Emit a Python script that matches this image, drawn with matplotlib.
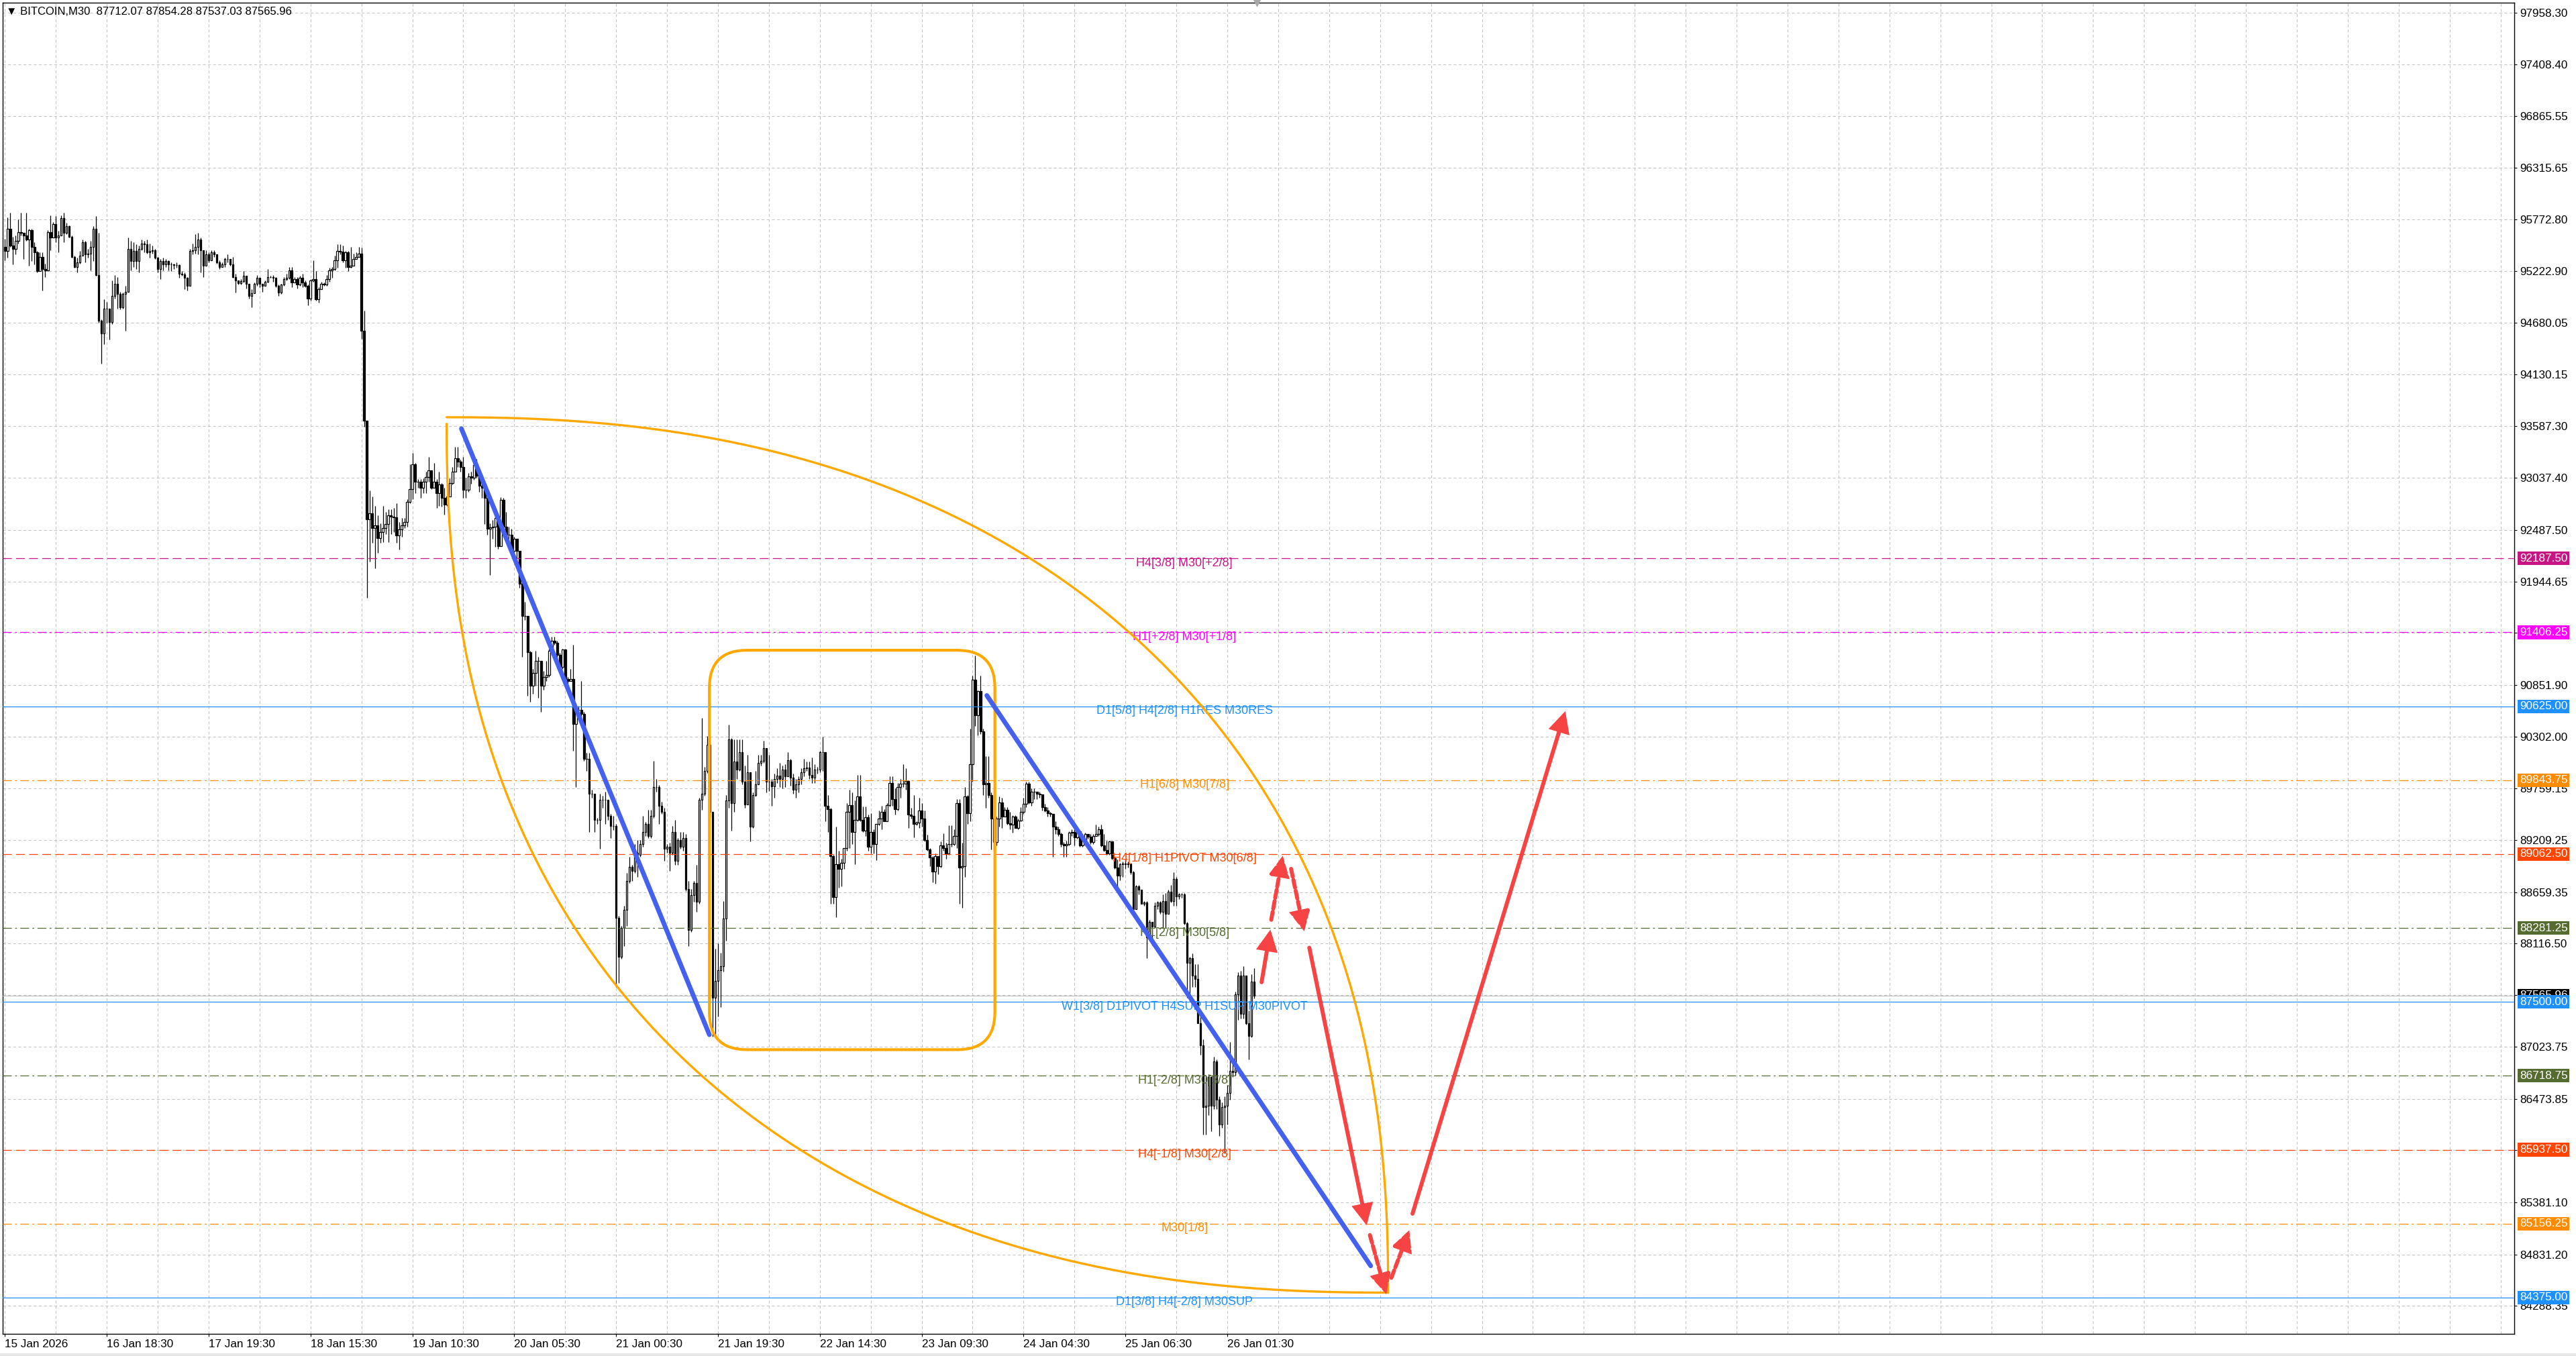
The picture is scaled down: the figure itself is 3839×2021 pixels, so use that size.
import numpy as np
import matplotlib
matplotlib.use("Agg")
import matplotlib.pyplot as plt
from matplotlib.patches import FancyBboxPatch

# ---- M30 candles, bar 0 = 15 Jan 2026 ----
closes = [
    95436, 95673, 95495, 95460, 95542, 95638, 95626, 95602, 95555, 95661,
    95483, 95424, 95222, 95376, 95246, 95234, 95638, 95578, 95725, 95578,
    95602, 95785, 95626, 95697, 95590, 95376, 95270, 95317, 95388, 95531,
    95400, 95412, 95483, 95673, 95186, 94700, 94569, 94830, 94830, 94688,
    94961, 95091, 94985, 94842, 94985, 95008, 95460, 95329, 95436, 95329,
    95460, 95519, 95507, 95424, 95436, 95448, 95364, 95246, 95329, 95293,
    95329, 95293, 95293, 95286, 95286, 95198, 95193, 95151, 95068, 95436,
    95448, 95483, 95555, 95448, 95281, 95400, 95341, 95424, 95400, 95317,
    95270, 95293, 95353, 95353, 95293, 95163, 95127, 95098, 95122, 95175,
    95091, 94961, 94992, 95091, 95151, 95091, 95068, 95115, 95163, 95163,
    95156, 95068, 94996, 95080, 95139, 95151, 95234, 95103, 95139, 95080,
    95151, 95103, 95068, 94937, 95127, 95139, 94925, 95032, 95091, 95080,
    95139, 95234, 95246, 95341, 95436, 95431, 95341, 95424, 95270, 95281,
    95353, 95376, 95412, 94593, 93645, 92601, 92667, 92508, 92535, 92402,
    92469, 92508, 92548, 92640, 92627, 92619, 92429, 92495, 92535, 92574,
    92786, 92918, 93182, 92997, 92997, 92931, 92997, 93050, 93116, 92931,
    92997, 92878, 92971, 92826, 92759, 92839, 92984, 93103, 93248, 93209,
    93156, 92914, 92914, 93052, 93044, 93173, 93065, 92957, 92936, 92828,
    92505, 92518, 92526, 92612, 92319, 92806, 92526, 92440, 92440, 92268,
    92397, 92268, 91923, 91578, 91578, 91199, 90845, 90975, 91104, 91104,
    90845, 90932, 90953, 91212, 91320, 91298, 91169, 91039, 91225, 90910,
    90889, 90910, 90436, 90587, 90587, 90544, 90070, 90070, 89703, 89703,
    89423, 89423, 89639, 89639, 89639, 89466, 89358, 89358, 88389, 87980,
    88281, 88475, 88777, 88927, 88884, 89078, 89057, 89165, 89294, 89380,
    89251, 89466, 89768, 89768, 89574, 89509, 89121, 89143, 89078, 89294,
    88992, 89208, 89143, 89229, 88690, 88259, 88626, 88755, 88561, 89639,
    89703, 89940, 90220, 89510, 87542, 87725, 87837, 87879, 88384, 89632,
    90277, 89604, 90039, 89955, 90137, 89828, 89590, 89927, 89352, 89688,
    89800, 90025, 90047, 90179, 89828, 89828, 89778, 89856, 89890, 89856,
    89955, 89884, 90053, 89870, 89744, 89800, 89856, 89927, 89969, 89974,
    89898, 89870, 89955, 89955, 90137, 90143, 89570, 89534, 89043, 88608,
    88959, 88903, 88973, 89127, 89506, 89582, 89295, 89422, 89674, 89422,
    89310, 89450, 89141, 89295, 89169, 89380, 89441, 89506, 89413, 89582,
    89814, 89646, 89534, 89772, 89806, 89806, 89834, 89478, 89464, 89380,
    89394, 89525, 89436, 89211, 89113, 89029, 88875, 89043, 88931, 89155,
    89127, 89071, 89169, 89166, 89253, 89604, 88917, 88931, 89674, 89492,
    90011, 90908, 90530, 90782, 90361, 89800, 89814, 89688, 89441, 89188,
    89440, 89608, 89457, 89531, 89390, 89373, 89457, 89339, 89417, 89507,
    89591, 89809, 89608, 89725, 89725, 89698, 89692, 89558, 89524, 89497,
    89490, 89356, 89322, 89272, 89171, 89155, 89171, 89289, 89296, 89239,
    89306, 89155, 89205, 89272, 89248, 89188, 89255, 89272, 89322, 89155,
    89104, 89071, 89195, 89020, 88920, 88836, 88953, 88960, 88953, 88960,
    88869, 88483, 88718, 88685, 88534, 88550, 88181, 88349, 88299, 88517,
    88550, 88450, 88567, 88433, 88668, 88567, 88802, 88617, 88634, 88634,
    88332, 87913, 87963, 87778, 87745, 87275, 87040, 86385, 86402, 86704,
    86402, 86872, 86469, 86201, 86385, 86402, 86536, 86771, 86754, 87577,
    87778, 87375, 87778, 87275, 87140, 87712.07, 87565.96,
]
highs = [
    95566, 95792, 95840, 95590, 95600, 95768, 95840, 95626, 95840, 95673,
    95673, 95531, 95436, 95424, 95424, 95305, 95661, 95815, 95745, 95804,
    95650, 95815, 95840, 95733, 95709, 95602, 95388, 95364, 95436, 95555,
    95542, 95460, 95542, 95697, 95804, 95626, 94712, 94925, 94901, 94795,
    95127, 95186, 95163, 95008, 94996, 95068, 95578, 95542, 95531, 95507,
    95495, 95555, 95542, 95555, 95519, 95495, 95460, 95376, 95353, 95364,
    95353, 95341, 95317, 95305, 95317, 95293, 95222, 95210, 95163, 95460,
    95519, 95614, 95626, 95578, 95448, 95448, 95424, 95448, 95448, 95400,
    95341, 95317, 95364, 95400, 95353, 95376, 95198, 95115, 95139, 95222,
    95175, 94985, 95032, 95103, 95186, 95151, 95091, 95127, 95246, 95175,
    95186, 95163, 95080, 95091, 95163, 95198, 95270, 95270, 95163, 95163,
    95175, 95198, 95127, 95080, 95139, 95341, 95222, 95056, 95115, 95103,
    95186, 95258, 95270, 95388, 95507, 95507, 95495, 95436, 95436, 95483,
    95412, 95424, 95483, 95471, 94808, 93645, 92905, 92839, 92746, 92640,
    92561, 92746, 92680, 92706, 92706, 92720, 92773, 92574, 92614, 92614,
    92812, 93182, 93301, 93196, 93024, 93024, 93037, 93103, 93261, 93116,
    93196, 93024, 93103, 92984, 92931, 92865, 93037, 93156, 93367, 93367,
    93235, 93259, 93044, 93087, 93108, 93216, 93237, 93130, 92979, 92957,
    92850, 92561, 92591, 92656, 92634, 92837, 92828, 92677, 92526, 92505,
    92419, 92397, 92268, 91944, 91729, 91578, 91212, 91018, 91212, 91147,
    91104, 90996, 91104, 91233, 91363, 91363, 91320, 91190, 91233, 91233,
    90932, 91018, 91276, 90630, 90630, 90889, 90565, 90134, 90134, 89746,
    89703, 89445, 89703, 89682, 89725, 89617, 89488, 89466, 89380, 88410,
    88302, 88518, 88863, 89035, 88949, 89165, 89208, 89208, 89466, 89402,
    89531, 89531, 90048, 89854, 89790, 89617, 89552, 89165, 89186, 89358,
    89423, 89229, 89294, 89294, 89272, 88777, 88690, 88777, 88949, 89660,
    90501, 89983, 90307, 90300, 89510, 88061, 88117, 88019, 88566, 89688,
    90431, 90291, 90277, 90277, 90277, 90277, 89997, 90109, 89927, 89716,
    89941, 90109, 90109, 90263, 90179, 90109, 89856, 89912, 89969, 90025,
    89997, 90011, 90137, 90067, 89912, 89856, 89884, 89969, 90067, 90039,
    90039, 90081, 90011, 89983, 90151, 90300, 90143, 89688, 89548, 89057,
    89352, 89099, 89015, 89127, 89604, 89744, 89716, 89632, 89898, 89898,
    89562, 89562, 89478, 89492, 89323, 89380, 89520, 89576, 89534, 89604,
    89884, 89884, 89758, 89814, 89856, 90011, 89969, 89842, 89548, 89688,
    89408, 89660, 89604, 89520, 89267, 89127, 89043, 89071, 89043, 89197,
    89281, 89183, 89366, 89366, 89323, 89646, 89646, 89183, 89772, 89688,
    90389, 90950, 91161, 90796, 90950, 90389, 90095, 90095, 89716, 89457,
    89457, 89675, 89658, 89558, 89558, 89507, 89474, 89474, 89440, 89558,
    89658, 89826, 89826, 89759, 89759, 89725, 89725, 89692, 89591, 89558,
    89507, 89390, 89406, 89356, 89289, 89188, 89205, 89306, 89322, 89322,
    89356, 89272, 89255, 89289, 89272, 89272, 89272, 89373, 89356, 89373,
    89272, 89205, 89205, 89138, 89037, 89003, 88970, 88987, 89003, 88987,
    88903, 88886, 88735, 88735, 88685, 88567, 88567, 88366, 88349, 88550,
    88567, 88567, 88634, 88651, 88685, 88735, 88869, 88819, 88651, 88651,
    88651, 88349, 87980, 88013, 87896, 87896, 87375, 87107, 86721, 86738,
    86603, 86922, 86889, 86503, 86435, 86503, 86620, 87073, 86872, 87610,
    87812, 87829, 87879, 87778, 87409, 87795, 87854.28,
]
lows = [
    95341, 95364, 95480, 95293, 95400, 95519, 95600, 95353, 95542, 95281,
    95329, 95293, 95210, 95222, 95020, 95163, 95222, 95448, 95602, 95531,
    95424, 95638, 95531, 95614, 95578, 95364, 95258, 95210, 95305, 95388,
    95317, 95364, 95234, 95329, 95174, 94676, 94248, 94450, 94676, 94500,
    94664, 94937, 94830, 94818, 94830, 94593, 95008, 95234, 95270, 95246,
    95210, 95448, 95424, 95412, 95364, 95412, 95353, 95210, 95139, 95234,
    95270, 95234, 95222, 95246, 95258, 95151, 95174, 95032, 95020, 95329,
    95400, 95412, 95400, 95210, 95163, 95293, 95317, 95341, 95376, 95305,
    95246, 95270, 95270, 95317, 95281, 95151, 94996, 95080, 95080, 95103,
    95044, 94937, 94842, 95008, 95068, 95056, 95008, 95068, 95103, 95151,
    95115, 95056, 94961, 94985, 95068, 95127, 95139, 95056, 95103, 95044,
    95068, 95056, 95056, 94866, 94913, 95115, 94913, 94890, 95032, 95068,
    95068, 95115, 95151, 95234, 95258, 95400, 95317, 95258, 95222, 95258,
    95317, 95364, 95388, 94510, 93579, 91768, 92152, 92350, 92085, 92244,
    92350, 92363, 92442, 92363, 92442, 92469, 92350, 92284, 92416, 92508,
    92521, 92773, 92812, 92878, 92931, 92826, 92878, 92878, 92997, 92918,
    92931, 92720, 92746, 92733, 92654, 92746, 92839, 92971, 93103, 93156,
    93103, 92828, 92828, 92893, 92979, 93022, 93044, 92893, 92828, 92548,
    92440, 92009, 92397, 92311, 92289, 92397, 92462, 92397, 92354, 92225,
    92246, 92182, 91880, 91147, 91535, 90738, 90673, 90759, 90845, 90716,
    90565, 90802, 90889, 90932, 91169, 91276, 91104, 90996, 91018, 90867,
    90759, 90889, 90156, 89768, 90501, 90501, 90048, 89940, 89294, 89660,
    89294, 89380, 89121, 89552, 89380, 89423, 89229, 89315, 87656, 87699,
    87958, 88087, 88302, 88755, 88777, 88863, 88820, 89035, 89143, 89251,
    89229, 89229, 89445, 89725, 89380, 89488, 88992, 89078, 88884, 89057,
    88949, 88949, 89121, 89100, 88669, 88087, 88238, 88561, 88454, 88540,
    89531, 89682, 89919, 89450, 87136, 87122, 87346, 87444, 87823, 88145,
    89548, 89309, 89506, 89856, 89941, 89800, 89548, 89604, 89197, 89338,
    89674, 89800, 89997, 90025, 89716, 89730, 89576, 89660, 89814, 89772,
    89758, 89772, 89884, 89786, 89702, 89660, 89716, 89800, 89884, 89941,
    89856, 89814, 89814, 89912, 89927, 89941, 89408, 89295, 88538, 88538,
    88398, 88706, 88720, 88903, 89099, 89127, 89169, 88959, 89408, 89408,
    89295, 89253, 89099, 89071, 89071, 89001, 89366, 89323, 89408, 89408,
    89562, 89576, 89478, 89520, 89660, 89772, 89744, 89338, 89436, 89240,
    89366, 89338, 89352, 89197, 89099, 88931, 88763, 88748, 88847, 88917,
    89099, 89015, 89057, 89141, 89155, 89127, 88538, 88496, 88819, 89380,
    89408, 89828, 90417, 90319, 90333, 89688, 89548, 89660, 89113, 89104,
    89155, 89356, 89339, 89457, 89373, 89322, 89289, 89339, 89322, 89406,
    89490, 89557, 89591, 89574, 89641, 89641, 89658, 89524, 89507, 89457,
    89457, 89037, 89272, 89255, 89138, 89037, 89037, 89155, 89255, 89155,
    89222, 89138, 89138, 89188, 89222, 89171, 89171, 89255, 89255, 89138,
    89087, 89054, 89054, 89003, 88903, 88701, 88785, 88819, 88903, 88920,
    88852, 88466, 88550, 88634, 88534, 88517, 87963, 88181, 88097, 88282,
    88483, 88433, 88282, 88282, 88517, 88550, 88517, 88517, 88584, 88601,
    88315, 87543, 87510, 87661, 87661, 87275, 86939, 86100, 86100, 86301,
    86133, 86368, 86368, 86083, 86167, 85898, 86201, 86469, 86704, 86721,
    87308, 87325, 87325, 87258, 86889, 87124, 87537.03,
]
first_open = 95480

date_ticks = [0, 38, 76, 114, 152, 190, 228, 266, 304, 342, 380, 418, 456]
date_labels = ['15 Jan 2026', '16 Jan 18:30', '17 Jan 19:30', '18 Jan 15:30',
               '19 Jan 10:30', '20 Jan 05:30', '21 Jan 00:30', '21 Jan 19:30',
               '22 Jan 14:30', '23 Jan 09:30', '24 Jan 04:30', '25 Jan 06:30',
               '26 Jan 01:30']
price_ticks = [97958.30, 97408.40, 96865.55, 96315.65, 95772.80, 95222.90,
               94680.05, 94130.15, 93587.30, 93037.40, 92487.50, 91944.65,
               91401.80, 90851.90, 90302.00, 89759.15, 89209.25, 88659.35,
               88116.50, 87573.65, 87023.75, 86473.85, 85930.95, 85381.10,
               84831.20, 84288.35]

level_prices = [92187.50, 91406.25, 90625.00, 89843.75, 89062.50, 88281.25,
                87500.00, 86718.75, 85937.50, 85156.25, 84375.00]
level_names = ['H4[3/8] M30[+2/8]', 'H1[+2/8] M30[+1/8]',
               'D1[5/8] H4[2/8] H1RES M30RES', 'H1[6/8] M30[7/8]',
               'H4[1/8] H1PIVOT M30[6/8]', 'H1[2/8] M30[5/8]',
               'W1[3/8] D1PIVOT H4SUP H1SUP M30PIVOT', 'H1[-2/8] M30[3/8]',
               'H4[-1/8] M30[2/8]', 'M30[1/8]', 'D1[3/8] H4[-2/8] M30SUP']
last_price = 87565.96
header = '\u25BC BITCOIN,M30  87712.07 87854.28 87537.03 87565.96'

# drawn objects, anchors as (bar, price)
trend_lines = [((170.3, 93559), (262.8, 87153)),
               ((366.3, 90739), (509.5, 84710))]
range_box = ((262.8, 86995), (369.3, 91217))
arc_upper = ((164.8, 93680), (516.0, 84427))
arc_lower = ((164.8, 93610), (516.0, 84427))
arrow_from = [(468.8, 87708), (472.4, 88368), (479.8, 88906), (486.6, 88073),
              (509.2, 85035), (517.2, 84583), (525.1, 85261)]
arrow_to = [(472.1, 88264), (476.7, 89045), (484.7, 88246), (508.0, 85139),
            (515.3, 84410), (523.9, 85087), (582.1, 90573)]
arrow_dashed = [False, True, True, False, True, True, False]

# ---- styles ----
level_colors = ['#C71585', '#FF00FF', '#1E90FF', '#FF8C00', '#FF4500', '#556B2F',
                '#1E90FF', '#556B2F', '#FF4500', '#FF8C00', '#1E90FF']
DASH = (0, (9.5, 4.5))
DASHDOT = (0, (9.5, 3.5, 2, 3.5))
level_styles = [DASH, DASHDOT, '-', DASHDOT, DASH, DASHDOT, '-', DASHDOT, DASH,
                DASHDOT, '-']
ORANGE = '#FFA800'
BLUE = '#4460EE'
RED = '#F64444'

plt.rcParams['font.family'] = ['Liberation Sans', 'DejaVu Sans']
plt.rcParams['lines.scale_dashes'] = False

W, H = 3839, 2021
fig = plt.figure(figsize=(W / 100, H / 100), dpi=100)
fig.patch.set_facecolor('white')
ax = fig.add_axes([4 / W, 33 / H, 3743 / W, 1984 / H])
ax.set_xlim(-0.83, 936.1)
ax.set_ylim(83991, 98062)

# grid
ax.set_axisbelow(True)
ax.set_yticks(price_ticks)
ax.set_yticklabels([f'{p:.2f}' for p in price_ticks])
ax.set_xticks(date_ticks)
ax.set_xticklabels(date_labels, ha='left')
ax.set_xticks([19 * k for k in range(1, 50)], minor=True)
ax.grid(True, which='both', axis='x', color='#C4C4C4', lw=0.8, ls=(0, (3, 2.5)))
ax.grid(True, which='major', axis='y', color='#C4C4C4', lw=0.8, ls=(0, (3, 2.5)))
ax.yaxis.tick_right()
ax.tick_params(axis='y', direction='out', length=3, width=0.8, pad=3,
               labelsize=12.3, colors='black')
ax.tick_params(axis='x', which='major', direction='out', length=3, width=0.8,
               pad=3, labelsize=12.3)
ax.tick_params(axis='x', which='minor', length=0)
for s in ax.spines.values():
    s.set_color('black')
    s.set_linewidth(1.0)

# candles
c = np.array(closes, dtype=float)
o = np.array([first_open] + closes[:-1], dtype=float)
hi = np.array(highs, dtype=float)
lo = np.array(lows, dtype=float)
x = np.arange(len(c))
up = c >= o
ax.vlines(x, lo, hi, color='black', lw=0.9, zorder=3)
ax.bar(x[up], (c - o)[up], bottom=o[up], width=0.64, color='white',
       edgecolor='black', linewidth=0.9, zorder=3.1)
ax.bar(x[~up], (c - o)[~up], bottom=o[~up], width=0.64, color='black',
       edgecolor='black', linewidth=0.9, zorder=3.1)

# levels
ax.axhline(last_price, color='#BDBDBD', lw=0.8, zorder=2.9)
for p, name, col, ls in zip(level_prices, level_names, level_colors, level_styles):
    ax.axhline(p, color=col, lw=0.9, ls=ls, zorder=4)
    ax.annotate(name, (440, p), xytext=(0, -5), textcoords='offset points',
                color=col, fontsize=13, ha='center', va='center', zorder=5)

# right-axis price boxes
ytr = ax.get_yaxis_transform()
ax.text(1 + 8 / 3743, last_price, f'{last_price:.2f}', transform=ytr, color='white',
        fontsize=12.3, va='center', ha='left', clip_on=False, zorder=20,
        bbox=dict(boxstyle='square,pad=0.15', fc='black', ec='none'))
for p, col in zip(level_prices, level_colors):
    ax.text(1 + 8 / 3743, p, f'{p:.2f}', transform=ytr, color='white',
            fontsize=12.3, va='center', ha='left', clip_on=False, zorder=21,
            bbox=dict(boxstyle='square,pad=0.15', fc=col, ec='none'))

# orange lens made of two quarter curves
t = np.linspace(0, np.pi / 2, 300)
n = 2.3
(x0, y0), (x1, y1) = arc_upper
ax.plot(x0 + (x1 - x0) * np.sin(t) ** (2 / n), y1 + (y0 - y1) * np.cos(t) ** (2 / n),
        color=ORANGE, lw=2.4, zorder=6, solid_capstyle='round')
(x0, y0), (x1, y1) = arc_lower
ax.plot(x1 - (x1 - x0) * np.cos(t) ** (2 / n), y0 - (y0 - y1) * np.sin(t) ** (2 / n),
        color=ORANGE, lw=2.4, zorder=6, solid_capstyle='round')

# rounded range box
(bx0, by0), (bx1, by1) = range_box
ax.add_patch(FancyBboxPatch((bx0, by0), bx1 - bx0, by1 - by0,
                            boxstyle='round,pad=0,rounding_size=14',
                            mutation_aspect=28.33, fc='none', ec=ORANGE,
                            lw=3, zorder=6))

# blue trend lines
for (p0, p1) in trend_lines:
    ax.plot([p0[0], p1[0]], [p0[1], p1[1]], color=BLUE, lw=5,
            solid_capstyle='round', zorder=6.5)

# red arrows
for p0, p1, dashed in zip(arrow_from, arrow_to, arrow_dashed):
    ax.annotate('', xy=p1, xytext=p0, zorder=8,
                arrowprops=dict(arrowstyle='-|>,head_length=1.1,head_width=0.55',
                                color=RED, lw=4.3, mutation_scale=15,
                                ls=(0, (8.5, 3.5)) if dashed else '-',
                                capstyle='round', joinstyle='miter',
                                shrinkA=0, shrinkB=0))

# chart shift marker and header
ax.plot([467], [1.0], marker='v', ms=7, color='#A8A8A8',
        transform=ax.get_xaxis_transform(), clip_on=False, zorder=10)
fig.text(9 / W, 1 - 17 / H, header, fontsize=12, va='center', ha='left',
         color='black')
fig.add_artist(plt.Rectangle((0, 0), 1, 4 / H, transform=fig.transFigure,
                             fc='#E8E8E8', ec='none'))

fig.savefig('out.png', dpi=100)
